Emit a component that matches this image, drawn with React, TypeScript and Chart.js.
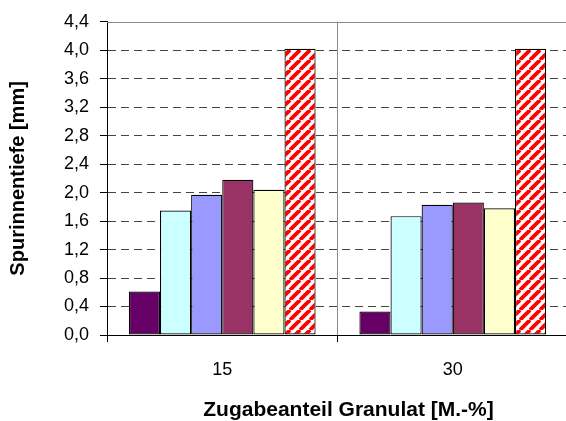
import React, { useEffect, useRef } from "react";
import { Chart, registerables } from "chart.js";

Chart.register(...registerables);

const categories = ["15", "30"];
const seriesNames = ["Variante 1", "Variante 2", "Variante 3", "Variante 4", "Variante 5", "Variante 6"];
const series1 = [0.61, 0.33];
const series2 = [1.75, 1.67];
const series3 = [1.97, 1.83];
const series4 = [2.18, 1.86];
const series5 = [2.04, 1.78];
const series6 = [4.02, 4.02];
const seriesColors = ["#660066", "#CCFFFF", "#9999FF", "#993366", "#FFFFCC", "hatch"];
const yTickMin = 0;
const yTickMax = 4.4;
const yTickStep = 0.4;
const xTitle = "Zugabeanteil Granulat [M.-%]";
const yTitle = "Spurinnentiefe [mm]";

const FONT = "'Liberation Sans', Arial, Helvetica, sans-serif";

function makeHatch(): CanvasPattern | string {
  const s = 10;
  const c = document.createElement("canvas");
  c.width = s;
  c.height = s;
  const g = c.getContext("2d");
  if (!g) return "#FF0000";
  g.fillStyle = "#FFFFFF";
  g.fillRect(0, 0, s, s);
  g.strokeStyle = "#FF0000";
  g.lineWidth = 3.8;
  for (const off of [-s, 0, s]) {
    g.beginPath();
    g.moveTo(off, s);
    g.lineTo(off + s, 0);
    g.stroke();
  }
  const p = g.createPattern(c, "repeat");
  return p || "#FF0000";
}

export default function App() {
  const ref = useRef<HTMLCanvasElement | null>(null);

  useEffect(() => {
    const canvas = ref.current;
    if (!canvas) return;
    const hatch = makeHatch();
    const values = [series1, series2, series3, series4, series5, series6];
    const datasets = values.map((d, i) => ({
      label: seriesNames[i],
      data: d,
      backgroundColor: seriesColors[i] === "hatch" ? hatch : seriesColors[i],
      borderColor: "#000000",
      borderWidth: 1.2,
      borderSkipped: false as const,
      categoryPercentage: 0.81,
      barPercentage: 1.0,
    }));

    const extras = {
      id: "extras",
      afterDatasetsDraw(chart: any) {
        const { ctx, chartArea } = chart;
        const y = chart.scales.y.getPixelForValue(yTickMax);
        ctx.save();
        ctx.strokeStyle = "#8a8a8a";
        ctx.lineWidth = 1;
        ctx.beginPath();
        ctx.moveTo(chartArea.left, Math.round(y) + 0.5);
        ctx.lineTo(chartArea.right, Math.round(y) + 0.5);
        ctx.stroke();
        ctx.restore();
      },
      afterDraw(chart: any) {
        const { ctx, chartArea } = chart;
        ctx.save();
        ctx.fillStyle = "#000000";
        ctx.textAlign = "center";
        ctx.textBaseline = "middle";
        ctx.font = `bold 21px ${FONT}`;
        ctx.fillText(xTitle, (chartArea.left + chartArea.right) / 2 + 11, 410);
        ctx.font = `bold 20px ${FONT}`;
        ctx.translate(18, (chartArea.top + chartArea.bottom) / 2);
        ctx.rotate(-Math.PI / 2);
        ctx.fillText(yTitle, 0, 0);
        ctx.restore();
      },
    };

    const chart = new Chart(canvas, {
      type: "bar",
      data: { labels: categories, datasets },
      plugins: [extras],
      options: {
        animation: false,
        responsive: false,
        devicePixelRatio: 1,
        layout: { padding: { top: 20, right: 0, left: 0, bottom: 0 } },
        plugins: {
          legend: { display: false },
          tooltip: { enabled: false },
        },
        scales: {
          x: {
            afterFit: (scale: any) => {
              scale.height = 86;
            },
            grid: {
              display: true,
              offset: true,
              color: "#8a8a8a",
              lineWidth: 1,
              drawTicks: true,
              tickLength: 7,
              tickColor: "#000000",
            },
            border: { display: true, color: "#000000", width: 1 },
            ticks: {
              color: "#000000",
              font: { family: FONT, size: 18 },
              padding: 17,
              maxRotation: 0,
            },
          },
          y: {
            min: yTickMin,
            max: yTickMax,
            afterFit: (scale: any) => {
              scale.width = 107;
            },
            ticks: {
              stepSize: yTickStep,
              color: "#000000",
              font: { family: FONT, size: 18 },
              padding: 11,
              callback: (v: any) => Number(v).toFixed(1).replace(".", ","),
            },
            grid: {
              display: true,
              color: (ctx: any) => {
                const v = ctx.tick ? ctx.tick.value : null;
                if (v === null) return "#444444";
                if (Math.abs(v) < 1e-9) return "rgba(0,0,0,0)";
                if (Math.abs(v - yTickMax) < 1e-9) return "rgba(0,0,0,0)";
                return "#444444";
              },
              lineWidth: 1,
              drawTicks: true,
              tickLength: 7,
              tickColor: "#000000",
              tickBorderDash: [],
            },
            border: {
              display: true,
              color: "#000000",
              width: 1,
              dash: [8, 5],
            },
          },
        },
      },
    });
    return () => chart.destroy();
  }, []);

  return (
    <div
      style={{
        position: "fixed",
        left: 0,
        top: 0,
        width: 566,
        height: 421,
        overflow: "hidden",
        background: "#ffffff",
      }}
    >
      <canvas ref={ref} width={568} height={421} style={{ display: "block" }} />
    </div>
  );
}
